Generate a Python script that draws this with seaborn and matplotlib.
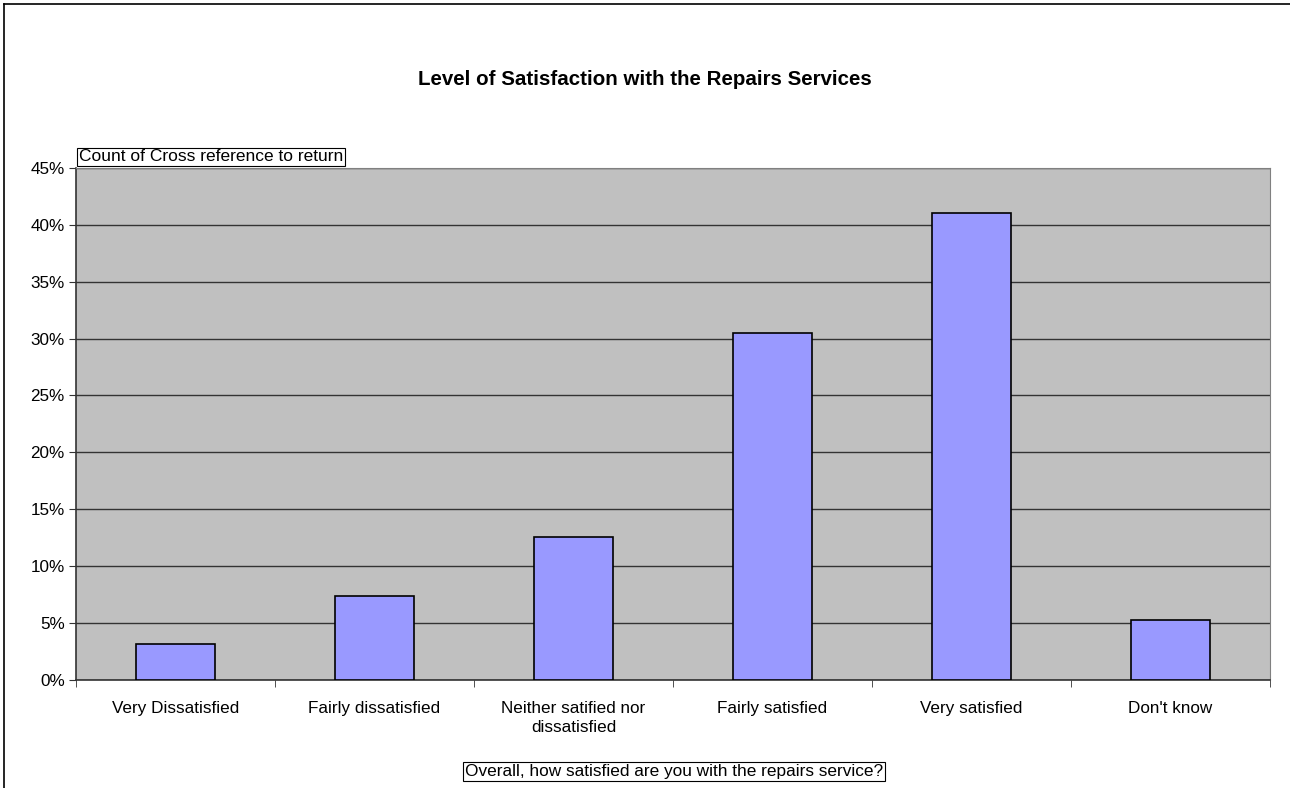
import seaborn as sns
from matplotlib import pyplot as plt
from matplotlib.lines import Line2D
from matplotlib.ticker import FixedLocator, PercentFormatter
import pandas as pd

categories = ['Very Dissatisfied', 'Fairly dissatisfied', 'Neither satified nor\ndissatisfied',
              'Fairly satisfied', 'Very satisfied', "Don't know"]
shares = [3.2, 7.4, 12.6, 30.5, 41.0, 5.3]
y_ticks = [0, 5, 10, 15, 20, 25, 30, 35, 40, 45]

title = 'Level of Satisfaction with the Repairs Services'
y_title = 'Count of Cross reference to return'
x_title = 'Overall, how satisfied are you with the repairs service?'


def satisfaction():
    plt.rcParams['font.family'] = ['Liberation Sans', 'DejaVu Sans']
    df = pd.DataFrame({'category': categories, 'share': shares})

    fig = plt.figure(figsize=(12.9, 7.88), dpi=100)
    # outer chart border (only top and left are visible in the crop)
    fig.lines.append(Line2D([0.0031, 1.0], [0.9952, 0.9952], transform=fig.transFigure,
                            color='black', linewidth=1.2))
    fig.lines.append(Line2D([0.0031, 0.0031], [0.0, 0.9952], transform=fig.transFigure,
                            color='black', linewidth=1.2))
    ax = fig.add_axes([0.0589, 0.137, 0.9256, 0.650])
    ax.set_facecolor('#C0C0C0')

    sns.barplot(data=df, x='category', y='share', color='#9999FF', edgecolor='black',
                linewidth=1.2, width=0.4, saturation=1, ax=ax, zorder=3)

    ax.set_ylim(0, 45)
    ax.set_xlim(-0.5, len(categories) - 0.5)
    ax.yaxis.set_major_locator(FixedLocator(y_ticks))
    ax.yaxis.set_major_formatter(PercentFormatter(decimals=0))
    ax.grid(axis='y', color='#333333', linewidth=1, zorder=1)
    ax.set_axisbelow(True)

    ax.tick_params(axis='x', which='major', length=0, pad=15, labelsize=12.3)
    for lbl in ax.get_xticklabels():
        lbl.set_linespacing(1.35)
    ax.set_xticks([i + 0.5 for i in range(-1, len(categories))], minor=True)
    ax.tick_params(axis='x', which='minor', length=5, color='#333333', direction='out')
    ax.tick_params(axis='y', length=5, color='#333333', labelsize=12.3, pad=3)

    for side in ['top', 'right']:
        ax.spines[side].set_color('#808080')
    for side in ['left', 'bottom']:
        ax.spines[side].set_color('#333333')
        ax.spines[side].set_linewidth(1.2)

    ax.set_xlabel('')
    ax.set_ylabel('')
    fig.text(0.5, 0.899, title, ha='center', va='center', fontsize=14.8, fontweight='bold')
    fig.text(0.0612, 0.801, y_title, ha='left', va='center', fontsize=12.5,
             bbox=dict(boxstyle='square,pad=0.1', facecolor='white', edgecolor='black', linewidth=0.8))
    fig.text(0.5225, 0.021, x_title, ha='center', va='center', fontsize=12.4,
             bbox=dict(boxstyle='square,pad=0.1', facecolor='white', edgecolor='black', linewidth=0.8))

    fig.savefig('out.png', dpi=100)


if __name__ == '__main__':
    satisfaction()
